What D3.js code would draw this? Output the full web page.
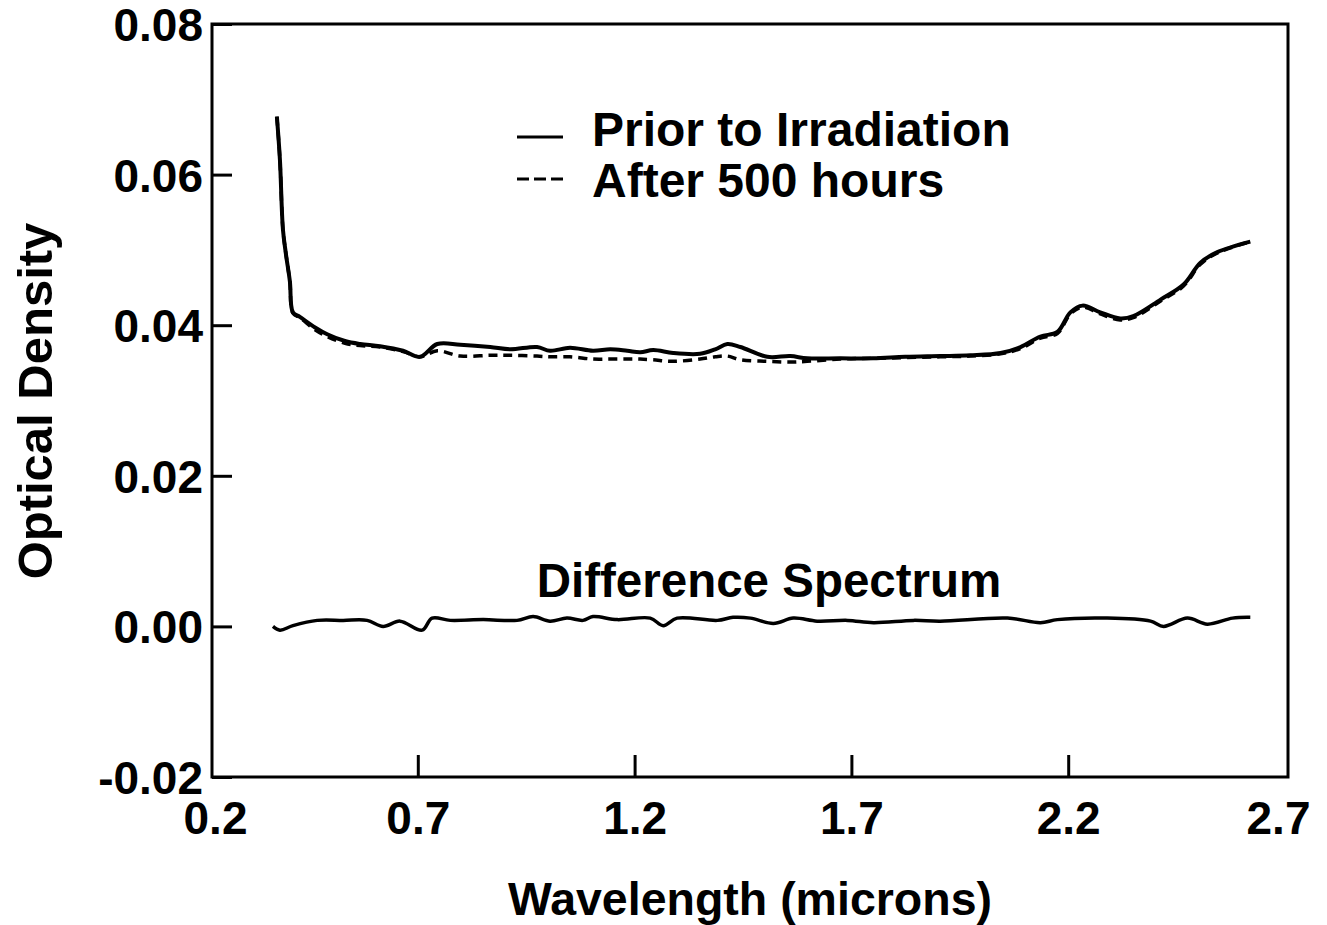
<!DOCTYPE html>
<html>
<head>
<meta charset="utf-8">
<script src="https://cdn.jsdelivr.net/npm/d3@7"></script>
<style>
    body { margin: 0; background: #fff; }
    svg text { font-family: "Liberation Sans", Arial, Helvetica, sans-serif; font-weight: bold; fill: #000; }
</style>
</head>
<body>
<script>
// wavelength grid (microns) shared by the two spectra
var wavelength = [0.375,0.382,0.389,0.396,0.405,0.412,0.428,0.463,0.491,0.532,0.567,0.613,0.666,0.705,
    0.745,0.798,0.867,0.913,0.975,1.005,1.051,1.104,1.144,1.183,1.213,1.243,1.289,1.351,1.386,1.414,
    1.444,1.506,1.559,1.598,1.674,1.750,1.824,1.905,1.974,2.044,2.090,2.136,2.175,2.205,2.233,2.274,
    2.320,2.350,2.413,2.466,2.505,2.544,2.620];
var priorOD = [0.0677,0.0620,0.0527,0.0494,0.0458,0.0417,0.0411,0.0397,0.0388,0.0379,0.0375,0.0372,0.0366,0.0358,
    0.0375,0.0374,0.0371,0.0368,0.0371,0.0366,0.0370,0.0366,0.0368,0.0366,0.0364,0.0367,0.0363,0.0362,0.0368,0.0375,
    0.0371,0.0358,0.0359,0.0356,0.0356,0.0356,0.0358,0.0359,0.0360,0.0363,0.0371,0.0385,0.0391,0.0417,0.0426,0.0417,
    0.0409,0.0412,0.0434,0.0454,0.0483,0.0497,0.0511];
var afterOD = [0.0677,0.0620,0.0527,0.0494,0.0458,0.0416,0.0410,0.0394,0.0385,0.0376,0.0373,0.0371,0.0365,0.0358,
    0.0366,0.0359,0.0360,0.0360,0.0359,0.0358,0.0358,0.0355,0.0355,0.0355,0.0355,0.0354,0.0352,0.0355,0.0358,0.0359,
    0.0354,0.0352,0.0351,0.0352,0.0355,0.0356,0.0357,0.0358,0.0359,0.0362,0.0369,0.0383,0.0389,0.0415,0.0424,0.0415,
    0.0407,0.0410,0.0432,0.0452,0.0481,0.0496,0.0511];

// difference spectrum
var diffWavelength = [0.366,0.382,0.412,0.468,0.528,0.583,0.620,0.659,0.710,0.733,0.775,0.851,0.929,0.966,
    1.005,1.044,1.081,1.104,1.160,1.236,1.266,1.298,1.391,1.427,1.467,1.520,1.566,1.621,1.691,1.751,
    1.843,1.905,2.060,2.136,2.175,2.290,2.390,2.420,2.475,2.521,2.579,2.620];
var diffOD = [0.0000,-0.0005,0.0001,0.0008,0.0008,0.0008,0.0000,0.0007,-0.0005,0.0011,0.0008,0.0009,0.0008,0.0013,
    0.0007,0.0011,0.0008,0.0013,0.0009,0.0011,0.0001,0.0011,0.0008,0.0012,0.0011,0.0004,0.0011,0.0007,0.0008,0.0005,
    0.0008,0.0007,0.0011,0.0005,0.0009,0.0011,0.0007,0.0000,0.0011,0.0003,0.0011,0.0012];

var xTicks = [0.2, 0.7, 1.2, 1.7, 2.2, 2.7];
var yTicks = [-0.02, 0.00, 0.02, 0.04, 0.06, 0.08];
var legendLabels = ["Prior to Irradiation", "After 500 hours"];

var W = 1327, H = 925;
var frame = {left: 212, right: 1288, top: 24, bottom: 777};

var svg = d3.select("body").append("svg").attr("width", W).attr("height", H);

var x = d3.scaleLinear().domain([0.2, 2.7]).range([201, 1285]);
var y = d3.scaleLinear().domain([-0.02, 0.08]).range([frame.bottom, frame.top]);

// frame
svg.append("rect")
    .attr("x", frame.left).attr("y", frame.top)
    .attr("width", frame.right - frame.left).attr("height", frame.bottom - frame.top)
    .attr("fill", "none").attr("stroke", "#000").attr("stroke-width", 3);

// y axis, ticks point inward
var yAxis = svg.append("g")
    .attr("transform", "translate(" + frame.left + ",0)")
    .call(d3.axisLeft(y).tickValues(yTicks).tickFormat(function(d){ return d.toFixed(2); })
        .tickSizeInner(-20).tickSizeOuter(0).tickPadding(9));
yAxis.select(".domain").remove();
yAxis.selectAll("line").attr("stroke", "#000").attr("stroke-width", 3);
yAxis.selectAll("text").attr("font-size", 46).attr("font-family", null).attr("dy", "0.36em");

// x axis
var xAxis = svg.append("g")
    .attr("transform", "translate(0," + frame.bottom + ")")
    .call(d3.axisBottom(x).tickValues(xTicks).tickFormat(d3.format(".1f"))
        .tickSizeInner(-22).tickSizeOuter(0).tickPadding(24));
xAxis.select(".domain").remove();
xAxis.selectAll("line").attr("stroke", "#000").attr("stroke-width", 3)
    .style("display", function(d){ return (d === 0.2 || d === 2.7) ? "none" : null; });
xAxis.selectAll("text").attr("font-size", 46).attr("font-family", null)
    .attr("dx", function(d){ return d === 0.2 ? 14 : (d === 2.7 ? -7 : 0); });

// curves
var line = d3.line()
    .x(function(d){ return x(d[0]); })
    .y(function(d){ return y(d[1]); })
    .curve(d3.curveCatmullRom);

svg.append("path")
    .datum(d3.zip(wavelength, afterOD))
    .attr("d", line).attr("fill", "none").attr("stroke", "#000")
    .attr("stroke-width", 3.5).attr("stroke-dasharray", "9,6");

svg.append("path")
    .datum(d3.zip(wavelength, priorOD))
    .attr("d", line).attr("fill", "none").attr("stroke", "#000")
    .attr("stroke-width", 4);

svg.append("path")
    .datum(d3.zip(diffWavelength, diffOD))
    .attr("d", line).attr("fill", "none").attr("stroke", "#000")
    .attr("stroke-width", 3.5);

// legend
var legend = svg.append("g");
legend.append("line").attr("x1", 517).attr("x2", 563).attr("y1", 137).attr("y2", 137)
    .attr("stroke", "#000").attr("stroke-width", 3);
legend.append("line").attr("x1", 517).attr("x2", 563).attr("y1", 179).attr("y2", 179)
    .attr("stroke", "#000").attr("stroke-width", 3).attr("stroke-dasharray", "12,5");
legend.selectAll("text.leg").data(legendLabels).enter().append("text")
    .attr("class", "leg")
    .attr("x", 592)
    .attr("y", function(d, i){ return 146 + i * 51; })
    .attr("font-size", 48)
    .text(function(d){ return d; });

svg.append("text")
    .attr("x", 769).attr("y", 597)
    .attr("text-anchor", "middle").attr("font-size", 47.5)
    .text("Difference Spectrum");

// axis titles
svg.append("text")
    .attr("x", 750).attr("y", 915)
    .attr("text-anchor", "middle").attr("font-size", 46.5)
    .text("Wavelength (microns)");

svg.append("text")
    .attr("transform", "translate(52,401) rotate(-90)")
    .attr("text-anchor", "middle").attr("font-size", 49)
    .text("Optical Density");
</script>
</body>
</html>
